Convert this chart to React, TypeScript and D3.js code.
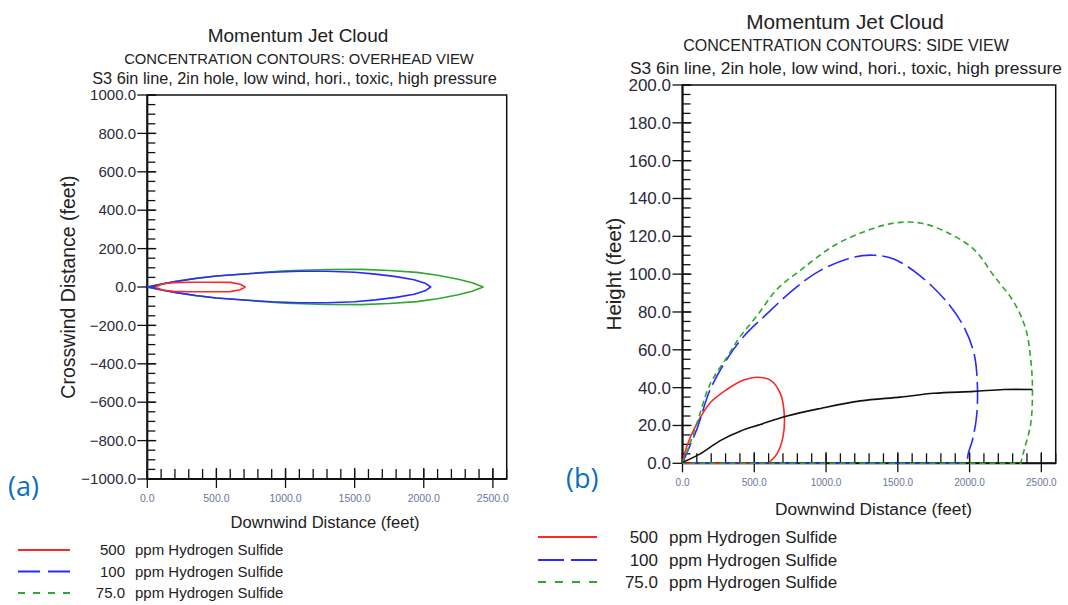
import React from 'react';
import * as d3 from 'd3';

type Pt = [number, number];

// text
const titleText = 'Momentum Jet Cloud';
const overheadSubtitle = 'CONCENTRATION CONTOURS: OVERHEAD VIEW';
const sideSubtitle = 'CONCENTRATION CONTOURS: SIDE VIEW';
const caseText = 'S3 6in line, 2in hole, low wind, hori., toxic, high pressure';
const xLabel = 'Downwind Distance (feet)';
const overheadYLabel = 'Crosswind Distance (feet)';
const sideYLabel = 'Height (feet)';

// ticks
const xTicks = [0, 500, 1000, 1500, 2000, 2500];
const overheadYTicks = [-1000, -800, -600, -400, -200, 0, 200, 400, 600, 800, 1000];
const sideYTicks = [0, 20, 40, 60, 80, 100, 120, 140, 160, 180, 200];

// legend
const levels = ['500', '100', '75.0'];
const levelUnit = 'ppm Hydrogen Sulfide';
const levelColors = ['#ff2626', '#2a2aff', '#2ea82e'];

// overhead view contours (downwind, crosswind)
const overhead500: Pt[] = [
  [56, 0], [115, 17], [190, 23], [300, 25], [450, 25], [600, 24], [672, 14], [708, 0],
  [672, -14], [600, -24], [450, -25], [300, -25], [190, -23], [115, -17], [56, 0],
];
const overhead100: Pt[] = [
  [0, 0], [100, 14], [200, 28], [350, 44], [500, 57], [700, 68], [900, 77], [1100, 82],
  [1300, 82], [1500, 77], [1650, 67], [1800, 54], [1930, 38], [2010, 20], [2050, 0],
  [2010, -20], [1930, -38], [1800, -54], [1650, -67], [1500, -77], [1300, -82], [1100, -82],
  [900, -77], [700, -68], [500, -57], [350, -44], [200, -28], [100, -14], [0, 0],
];
const overhead75: Pt[] = [
  [0, 0], [100, 16], [200, 29], [350, 45], [500, 57], [700, 68], [1000, 85], [1300, 91],
  [1550, 92], [1750, 86], [1950, 76], [2100, 61], [2250, 40], [2350, 22], [2430, 0],
  [2350, -22], [2250, -40], [2100, -61], [1950, -76], [1750, -86], [1550, -92], [1300, -91],
  [1000, -85], [700, -68], [500, -57], [350, -45], [200, -29], [100, -16], [0, 0],
];

// side view contours (downwind, height); each closes along the ground back to the source
const side500: Pt[] = [
  [0, 0], [30, 9], [100, 21], [193, 32], [309, 39], [426, 44], [519, 45.5], [612, 44],
  [681, 37], [709, 26], [700, 14], [658, 5], [612, 1], [600, 0],
];
const side100: Pt[] = [
  [0, 0], [50, 9], [100, 18], [193, 39], [309, 55], [426, 67], [588, 79], [775, 92],
  [961, 102], [1193, 109], [1333, 110], [1472, 108], [1658, 99], [1845, 85], [1961, 72],
  [2031, 58], [2054, 42], [2049, 25], [2019, 12], [1990, 5], [1984, 0],
];
const side75: Pt[] = [
  [0, 0], [50, 10], [100, 21], [193, 42], [309, 56], [402, 67], [519, 78], [658, 92],
  [821, 102], [1054, 115], [1286, 123], [1472, 127], [1658, 127], [1845, 122], [2031, 113],
  [2170, 99], [2310, 85], [2391, 71], [2426, 55], [2438, 39], [2426, 21], [2380, 7],
  [2356, 0],
];
const sideCenterline: Pt[] = [
  [0, 0.5], [123, 5], [263, 12], [402, 17], [542, 20.5], [728, 25], [961, 29], [1240, 33],
  [1519, 35], [1751, 37], [2031, 38], [2240, 39], [2438, 39],
];

const FONT = '"Liberation Sans", Arial, Helvetica, sans-serif';

type Series = { pts: Pt[]; color: string; dash?: string; smooth?: boolean; ground?: boolean };

type PanelProps = {
  x0: number; x1: number; y0: number; y1: number;
  yDomain: [number, number]; yTicks: number[];
  subtitle: string; yLabel: string;
  titles: { x: number; y: number; size: number }[];
  yTickSize: number; yTickRight: number;
  xTickSize: number; xTickY: number;
  xLab: { x: number; y: number; size: number };
  yLab: { x: number; y: number; size: number };
  legend: { lx0: number; lx1: number; ys: number[]; numRight: number; textX: number; size: number; dashes: (string | undefined)[] };
  series: Series[];
  tag: { text: string; x: number; y: number };
};

function Panel(p: PanelProps) {
  const x = d3.scaleLinear().domain([0, 2600]).range([p.x0, p.x1]);
  const y = d3.scaleLinear().domain(p.yDomain).range([p.y0, p.y1]);
  const fmt = d3.format('.1f');
  const line = d3.line<Pt>().x(d => x(d[0])).y(d => y(d[1]));
  const smoothLine = d3.line<Pt>().x(d => x(d[0])).y(d => y(d[1])).curve(d3.curveCatmullRom.alpha(0.5));
  const xMinor = x.ticks(26);
  const yMinor = y.ticks(40);
  const ax = x(0);
  const ay = y(p.yDomain[0]);
  const texts = [titleText, p.subtitle, caseText];

  const pathFor = (s: Series) => {
    let d = (s.smooth ? smoothLine(s.pts) : line(s.pts)) || '';
    if (s.ground) d += 'L' + line([s.pts[s.pts.length - 1], s.pts[0]])!.slice(1).split('L')[1];
    return d;
  };

  return (
    <g fontFamily={FONT}>
      {p.titles.map((t, i) => (
        <text key={i} x={t.x} y={t.y} fontSize={t.size} textAnchor="middle" fill="#222">{texts[i]}</text>
      ))}

      <rect x={p.x0} y={p.y1} width={p.x1 - p.x0} height={p.y0 - p.y1} fill="none" stroke="#111" strokeWidth={1.5} />

      {yMinor.map(v => (
        <line key={'ym' + v} x1={ax} x2={ax + 8} y1={y(v)} y2={y(v)} stroke="#111" strokeWidth={1.3} />
      ))}
      {p.yTicks.map(v => (
        <g key={'y' + v}>
          <line x1={ax - 10} x2={ax + 9} y1={y(v)} y2={y(v)} stroke="#111" strokeWidth={1.3} />
          <text x={p.yTickRight} y={y(v)} dy="0.35em" fontSize={p.yTickSize} textAnchor="end" fill="#2a2a3a">{fmt(v)}</text>
        </g>
      ))}
      {xMinor.map(v => (
        <line key={'xm' + v} x1={x(v)} x2={x(v)} y1={ay} y2={ay - 10} stroke="#111" strokeWidth={1.3} />
      ))}
      {xTicks.map(v => (
        <g key={'x' + v}>
          <line x1={x(v)} x2={x(v)} y1={ay + 9} y2={ay - 11} stroke="#111" strokeWidth={1.3} />
          <text x={x(v)} y={p.xTickY} fontSize={p.xTickSize} textAnchor="middle" fill="#6a76a0">{fmt(v)}</text>
        </g>
      ))}
      <line x1={ax} x2={ax} y1={p.y1} y2={ay} stroke="#111" strokeWidth={2} />
      <line x1={ax} x2={p.x1} y1={ay} y2={ay} stroke="#111" strokeWidth={2} />

      {p.series.map((s, i) => (
        <path key={'s' + i} d={pathFor(s)} fill="none" stroke={s.color} strokeWidth={1.6}
          strokeDasharray={s.dash} strokeLinejoin="round" />
      ))}

      <text x={p.xLab.x} y={p.xLab.y} fontSize={p.xLab.size} textAnchor="middle" fill="#222">{xLabel}</text>
      <text transform={`translate(${p.yLab.x},${p.yLab.y}) rotate(-90)`} fontSize={p.yLab.size} textAnchor="middle" fill="#222">{p.yLabel}</text>

      {levels.map((lv, i) => (
        <g key={'lg' + i}>
          <line x1={p.legend.lx0} x2={p.legend.lx1} y1={p.legend.ys[i]} y2={p.legend.ys[i]}
            stroke={levelColors[i]} strokeWidth={2} strokeDasharray={p.legend.dashes[i]} />
          <text x={p.legend.numRight} y={p.legend.ys[i]} dy="0.35em" fontSize={p.legend.size} textAnchor="end" fill="#222">{lv}</text>
          <text x={p.legend.textX} y={p.legend.ys[i]} dy="0.35em" fontSize={p.legend.size} fill="#222">{levelUnit}</text>
        </g>
      ))}

      <text x={p.tag.x} y={p.tag.y} fontSize={27} fontFamily='"Open Sans", "Noto Sans", sans-serif' fill="#0a6fbf">{p.tag.text}</text>
    </g>
  );
}

export default function App() {
  return (
    <svg width={1068} height={605} style={{ position: 'absolute', left: 0, top: 0, background: '#fff' }}>
      <rect width={1068} height={605} fill="#fff" />
      <Panel
        x0={147.3} x1={506.7} y0={479} y1={95}
        yDomain={[-1000, 1000]} yTicks={overheadYTicks}
        subtitle={overheadSubtitle} yLabel={overheadYLabel}
        titles={[{ x: 298, y: 42, size: 19 }, { x: 299, y: 63.5, size: 14.8 }, { x: 294.5, y: 83.5, size: 16.3 }]}
        yTickSize={15} yTickRight={136}
        xTickSize={10.5} xTickY={502}
        xLab={{ x: 325, y: 528, size: 16.6 }}
        yLab={{ x: 75, y: 287, size: 19.5 }}
        legend={{ lx0: 18, lx1: 70, ys: [550, 571.5, 593], numRight: 125, textX: 135, size: 15, dashes: [undefined, '22,8', '7,8'] }}
        series={[
          { pts: overhead75, color: levelColors[2] },
          { pts: overhead100, color: levelColors[1] },
          { pts: overhead500, color: levelColors[0] },
        ]}
        tag={{ text: '(a)', x: 8, y: 496 }}
      />
      <Panel
        x0={682.5} x1={1055.7} y0={463.3} y1={85}
        yDomain={[0, 200]} yTicks={sideYTicks}
        subtitle={sideSubtitle} yLabel={sideYLabel}
        titles={[{ x: 845, y: 28.5, size: 20.8 }, { x: 846, y: 51, size: 16 }, { x: 846, y: 73.5, size: 17.4 }]}
        yTickSize={17} yTickRight={671}
        xTickSize={10} xTickY={486}
        xLab={{ x: 873.5, y: 515, size: 17.3 }}
        yLab={{ x: 621, y: 274, size: 20.5 }}
        legend={{ lx0: 538, lx1: 597, ys: [537, 560, 582], numRight: 658, textX: 669, size: 17, dashes: [undefined, '26,7', '8,9'] }}
        series={[
          { pts: side500, color: levelColors[0], smooth: true, ground: true },
          { pts: side100, color: levelColors[1], dash: '22,6', smooth: true, ground: true },
          { pts: side75, color: levelColors[2], dash: '6,4', smooth: true, ground: true },
          { pts: sideCenterline, color: '#111', smooth: true },
        ]}
        tag={{ text: '(b)', x: 566, y: 488 }}
      />
    </svg>
  );
}
